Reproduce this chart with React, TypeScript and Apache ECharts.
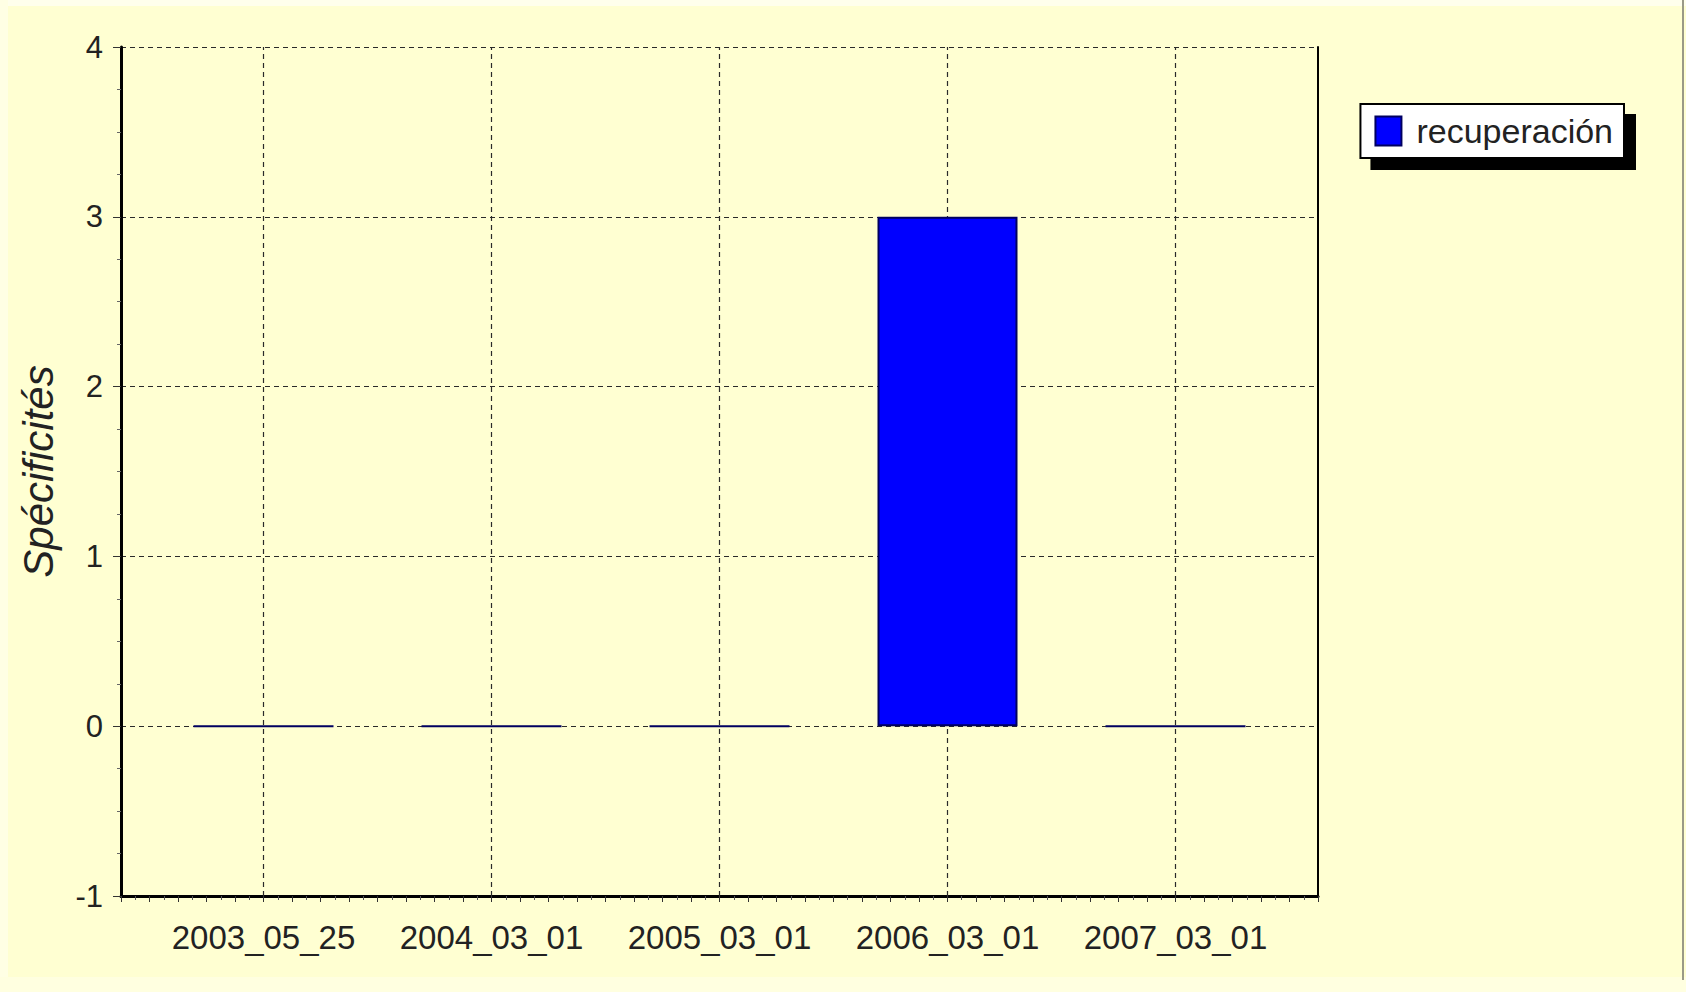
import React, { useEffect, useRef } from "react";
import * as echarts from "echarts";

const categories = ["2003_05_25", "2004_03_01", "2005_03_01", "2006_03_01", "2007_03_01"];
const seriesName = "recuperación";
const values = [0, 0, 0, 3, 0];
const yTicks = [-1, 0, 1, 2, 3, 4];
const yTitle = "Spécificités";

const FONT = "'Liberation Sans', Arial, sans-serif";

export default function App() {
  const ref = useRef<HTMLDivElement>(null);
  useEffect(() => {
    if (!ref.current) return;
    const chart = echarts.init(ref.current, null, { renderer: "svg" });
    const idx = categories.map((_, i) => i);
    const option: any = {
      animation: false,
      backgroundColor: "#FFFFD2",
      textStyle: { fontFamily: FONT },
      graphic: [
        { type: "rect", shape: { x: 0, y: 0, width: 1686, height: 6 }, style: { fill: "#FFFFEC" }, silent: true },
        { type: "rect", shape: { x: 0, y: 0, width: 8, height: 992 }, style: { fill: "#FFFFE4" }, silent: true },
        { type: "rect", shape: { x: 0, y: 977, width: 1686, height: 15 }, style: { fill: "#FFFFE0" }, silent: true },
        { type: "rect", shape: { x: 1682, y: 0, width: 2, height: 980 }, style: { fill: "#9A9A88" }, silent: true },
      ],
      grid: { left: 121, right: 368, top: 47, bottom: 96, containLabel: false },
      legend: {
        right: 62,
        top: 104,
        orient: "vertical",
        icon: "rect",
        itemWidth: 26,
        itemHeight: 29,
        padding: [10, 11, 10, 14],
        backgroundColor: "#FFFFFF",
        borderColor: "#000000",
        borderWidth: 2,
        borderRadius: 0,
        shadowColor: "#000000",
        shadowBlur: 0,
        shadowOffsetX: 11,
        shadowOffsetY: 11,
        textStyle: { fontSize: 34, color: "#222222", fontFamily: FONT, padding: [0, 0, 0, 10] },
        data: [seriesName],
      },
      xAxis: {
        type: "value",
        min: -0.625,
        max: 4.625,
        interval: 0.125,
        axisLine: { show: true, onZero: false, lineStyle: { color: "#000000", width: 3 } },
        axisTick: { show: true, length: 6, lineStyle: { color: "#333333", width: 1 } },
        minorTick: { show: true, splitNumber: 2, length: 4, lineStyle: { color: "#555555" } },
        splitLine: { show: false },
        axisLabel: {
          fontSize: 33,
          color: "#222222",
          fontFamily: FONT,
          margin: 25,
          showMinLabel: true,
          showMaxLabel: true,
          formatter: (v: number) => {
            const r = Math.round(v);
            return Math.abs(v - r) < 1e-6 && r >= 0 && r < categories.length ? categories[r] : "";
          },
        },
      },
      yAxis: [
        {
          type: "value",
          min: yTicks[0],
          max: yTicks[yTicks.length - 1],
          interval: 1,
          axisLine: { show: true, onZero: false, lineStyle: { color: "#000000", width: 3 } },
          axisTick: { show: true, length: 8, lineStyle: { color: "#333333", width: 1 } },
          minorTick: { show: true, splitNumber: 4, length: 4, lineStyle: { color: "#666666" } },
          splitLine: { show: true, lineStyle: { color: "#2a2a2a", width: 1.2, type: [5, 4] } },
          axisLabel: { fontSize: 31, color: "#222222", fontFamily: FONT, margin: 18 },
          name: yTitle,
          nameLocation: "middle",
          nameGap: 62,
          nameTextStyle: { fontSize: 42, fontStyle: "italic", color: "#222222", fontFamily: FONT },
        },
        {
          type: "value",
          position: "right",
          min: yTicks[0],
          max: yTicks[yTicks.length - 1],
          interval: 1,
          axisLine: { show: true, onZero: false, lineStyle: { color: "#000000", width: 2 } },
          axisTick: { show: false },
          axisLabel: { show: false },
          splitLine: { show: false },
        },
      ],
      series: [
        {
          name: "grid-x",
          type: "scatter",
          yAxisIndex: 0,
          z: 1,
          data: [],
          silent: true,
          markLine: {
            silent: true,
            z: 1,
            symbol: "none",
            label: { show: false },
            lineStyle: { color: "#2a2a2a", width: 1.2, type: [5, 4] },
            data: idx.map((i) => ({ xAxis: i })),
          },
        },
        {
          name: seriesName,
          type: "bar",
          yAxisIndex: 0,
          z: 3,
          barWidth: 140,
          clip: false,
          data: idx.map((i) => [i, values[i]]),
          itemStyle: { color: "#0000FF", borderColor: "#000060", borderWidth: 2 },
        },
      ],
    };
    chart.setOption(option);
    return () => chart.dispose();
  }, []);
  return (
    <div
      ref={ref}
      style={{ position: "fixed", left: 0, top: 0, width: 1686, height: 992 }}
    />
  );
}
